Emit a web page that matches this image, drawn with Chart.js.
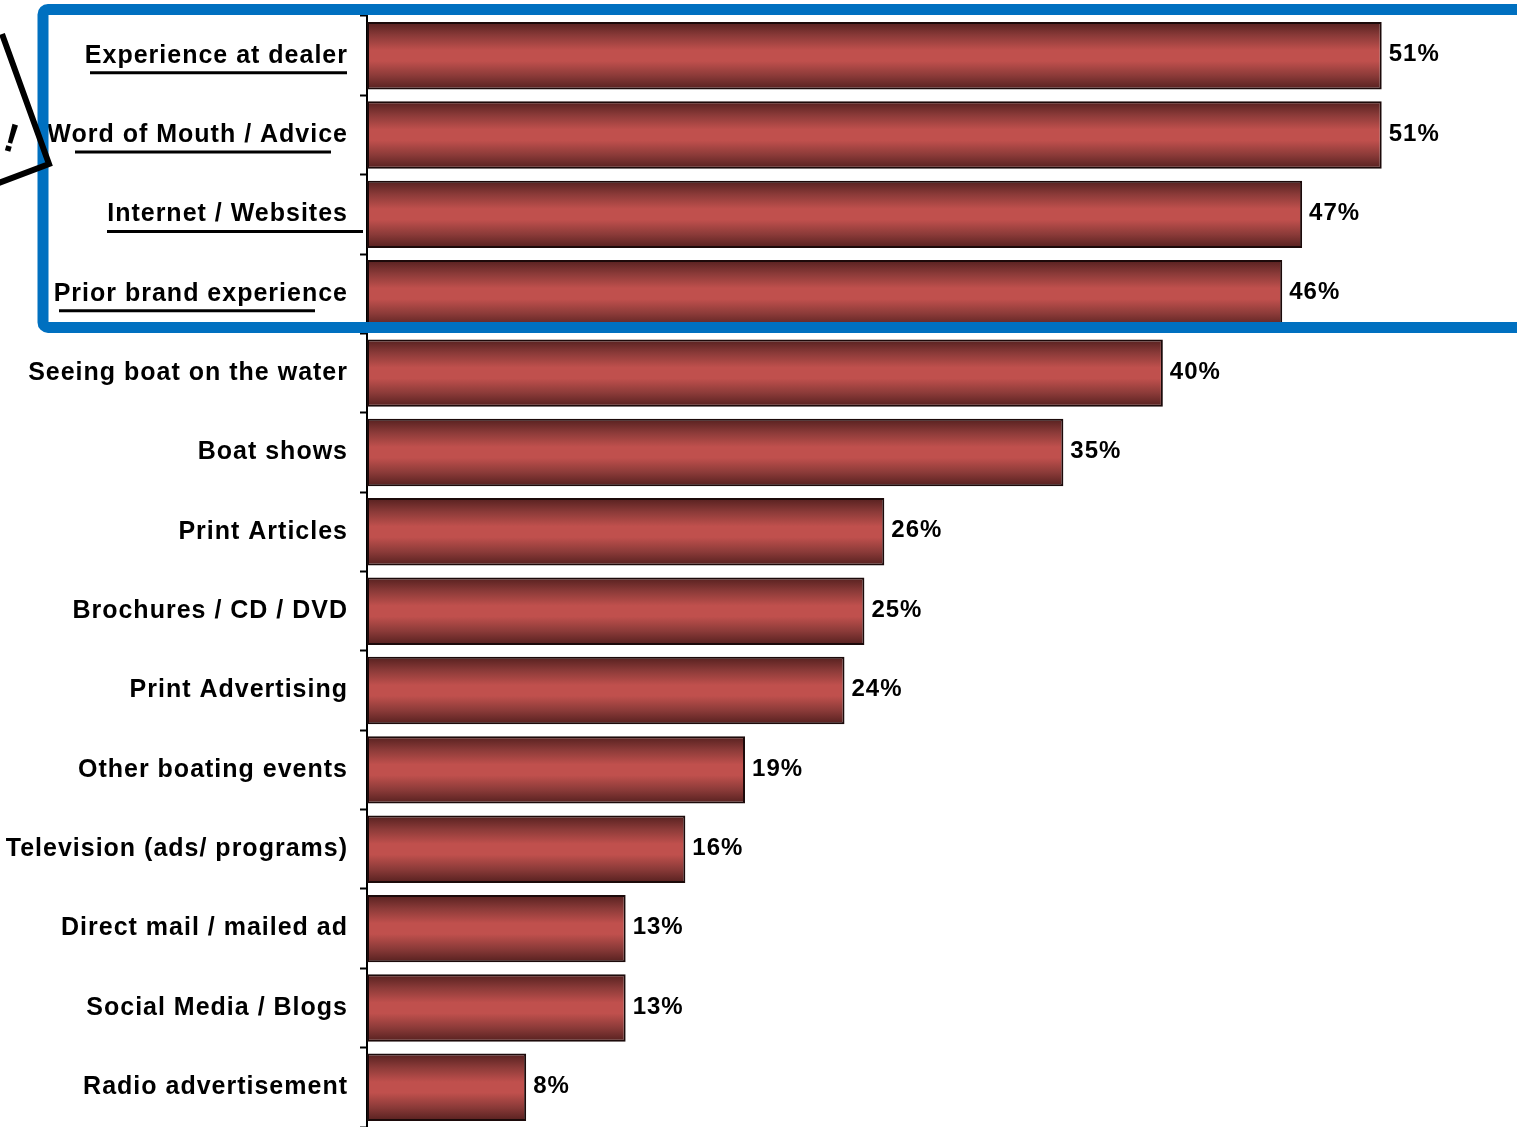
<!DOCTYPE html>
<html>
<head>
<meta charset="utf-8">
<script src="https://cdn.jsdelivr.net/npm/chart.js@4.4.1/dist/chart.umd.min.js"></script>
<style>
  html, body { margin: 0; padding: 0; background: #fff; }
  #wrap { width: 1517px; height: 1127px; }
</style>
</head>
<body>
<div id="wrap"><canvas id="sourcesChart"></canvas></div>
<script>
// Information sources and share of respondents (%)
const sources = [
  "Experience at dealer",
  "Word of Mouth / Advice",
  "Internet / Websites",
  "Prior brand experience",
  "Seeing boat on the water",
  "Boat shows",
  "Print Articles",
  "Brochures / CD / DVD",
  "Print Advertising",
  "Other boating events",
  "Television (ads/ programs)",
  "Direct mail / mailed ad",
  "Social Media / Blogs",
  "Radio advertisement",
];
const shares = [51, 51, 47, 46, 40, 35, 26, 25, 24, 19, 16, 13, 13, 8];

// Underlines under the highlighted top sources: [start, end] measured back from the axis line
const underlineSpans = [[277, 20], [292, 36], [260, 4], [308, 52]];
const highlightCount = 4;

const BAR_PCT = 0.85;
const FONT = "'Liberation Sans', Arial, Helvetica, sans-serif";

// Vertical shaded fill for each bar, dark edges and a light middle band
function barGradient(context) {
  const chart = context.chart;
  const yScale = chart.scales.y;
  if (!yScale || !chart.chartArea) return "#c0504d";
  const slot = (chart.chartArea.bottom - chart.chartArea.top) / sources.length;
  const center = yScale.getPixelForValue(context.dataIndex);
  const half = (slot * BAR_PCT) / 2;
  const g = chart.ctx.createLinearGradient(0, center - half, 0, center + half);
  g.addColorStop(0, "#55201f");
  g.addColorStop(0.2, "#8a3a38");
  g.addColorStop(0.42, "#c0504d");
  g.addColorStop(0.58, "#c0504d");
  g.addColorStop(0.8, "#8a3a38");
  g.addColorStop(1, "#55201f");
  return g;
}

// Slightly tracked text like the rest of the deck
const spacing = {
  id: "spacing",
  beforeDraw(chart) {
    chart.ctx.letterSpacing = "1px";
  },
};

// Percent labels at the end of each bar
const valueLabels = {
  id: "valueLabels",
  afterDatasetsDraw(chart) {
    const ctx = chart.ctx;
    const meta = chart.getDatasetMeta(0);
    ctx.save();
    ctx.letterSpacing = "1px";
    ctx.font = "bold 24px " + FONT;
    ctx.fillStyle = "#000";
    ctx.textAlign = "left";
    ctx.textBaseline = "middle";
    meta.data.forEach((bar, i) => {
      ctx.fillText(shares[i] + "%", bar.x + 7, bar.y - 1);
    });
    ctx.restore();
  },
};

// Highlight box, label underlines and the cut-off callout at the left edge
const highlight = {
  id: "highlight",
  afterDraw(chart) {
    const ctx = chart.ctx;
    const yScale = chart.scales.y;
    const area = chart.chartArea;
    const slot = (area.bottom - area.top) / sources.length;

    ctx.save();
    ctx.strokeStyle = "#000";
    ctx.lineWidth = 3;
    underlineSpans.forEach((span, i) => {
      const y = yScale.getPixelForValue(i) + 17;
      ctx.beginPath();
      ctx.moveTo(area.left - span[0], y);
      ctx.lineTo(area.left - span[1], y);
      ctx.stroke();
    });

    // blue frame around the top sources
    const top = area.top - 6.5;
    const bottom = area.top + slot * highlightCount - 6;
    ctx.strokeStyle = "#0070c0";
    ctx.lineWidth = 11;
    ctx.lineJoin = "round";
    ctx.beginPath();
    ctx.roundRect(43, top, chart.width - 37, bottom - top, 5);
    ctx.stroke();

    // callout box sticking in from the left
    ctx.strokeStyle = "#000";
    ctx.lineWidth = 6;
    ctx.lineJoin = "miter";
    ctx.beginPath();
    ctx.moveTo(2, 34);
    ctx.lineTo(49, 164);
    ctx.lineTo(-4, 184);
    ctx.stroke();

    ctx.translate(14, 153);
    ctx.rotate(0.28);
    ctx.font = "bold 40px " + FONT;
    ctx.fillStyle = "#000";
    ctx.textAlign = "right";
    ctx.textBaseline = "alphabetic";
    ctx.letterSpacing = "0px";
    ctx.fillText("!", 0, 0);
    ctx.fillText(".", -14, 0);
    ctx.restore();
  },
};

const ctx = document.getElementById("sourcesChart").getContext("2d");
new Chart(ctx, {
  type: "bar",
  data: {
    labels: sources,
    datasets: [{
      data: shares,
      backgroundColor: barGradient,
      borderColor: "#1c0a0a",
      borderWidth: 2,
      borderSkipped: false,
      barPercentage: BAR_PCT,
      categoryPercentage: 1,
    }],
  },
  options: {
    indexAxis: "y",
    responsive: true,
    maintainAspectRatio: false,
    animation: false,
    layout: { padding: { top: 16, left: 0, right: 0, bottom: 0 } },
    plugins: {
      legend: { display: false },
      tooltip: { enabled: false },
    },
    scales: {
      x: {
        display: false,
        min: 0,
        max: 57.8,
      },
      y: {
        afterFit(scale) {
          scale.width = 367;
          scale.paddingTop = 0;
          scale.paddingBottom = 0;
        },
        border: { display: true, color: "#000", width: 2 },
        grid: {
          offset: true,
          drawOnChartArea: false,
          drawTicks: true,
          tickLength: 7,
          tickWidth: 2,
          tickColor: "#000",
        },
        ticks: {
          color: "#000",
          padding: 12,
          font: { family: FONT, size: 25, weight: "bold" },
        },
      },
    },
  },
  plugins: [spacing, valueLabels, highlight],
});
</script>
</body>
</html>
